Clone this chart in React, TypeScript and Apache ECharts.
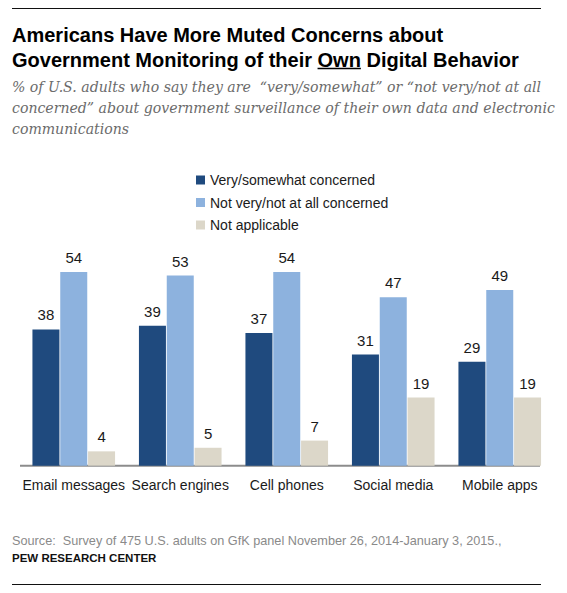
import React, { useEffect, useRef } from "react";
import * as echarts from "echarts";

const categories = ["Email messages", "Search engines", "Cell phones", "Social media", "Mobile apps"];
const seriesNames = ["Very/somewhat concerned", "Not very/not at all concerned", "Not applicable"];
const concerned = [38, 39, 37, 31, 29];
const notConcerned = [54, 53, 54, 47, 49];
const notApplicable = [4, 5, 7, 19, 19];
const seriesColors = ["#1f4a7e", "#8db2de", "#dcd7c9"];

const titleLine1 = "Americans Have More Muted Concerns about";
const titleLine2Pre = "Government Monitoring of their ";
const titleLine2Own = "Own";
const titleLine2Post = " Digital Behavior";
const subtitleLines = [
  "% of U.S. adults who say they are  \u201cvery/somewhat\u201d or \u201cnot very/not at all",
  "concerned\u201d about government surveillance of their own data and electronic",
  "communications",
];
const sourceText = "Source:  Survey of 475 U.S. adults on GfK panel November 26, 2014-January 3, 2015.,";
const brandText = "PEW RESEARCH CENTER";

const SANS = "'Liberation Sans', Arial, sans-serif";
const SERIF = "'DejaVu Serif', Georgia, serif";

function measure(text: string, font: string): number {
  const ctx = document.createElement("canvas").getContext("2d");
  if (!ctx) return text.length * 10;
  ctx.font = font;
  return ctx.measureText(text).width;
}

export default function App() {
  const ref = useRef<HTMLDivElement>(null);
  useEffect(() => {
    document.body.style.margin = "0";
    if (!ref.current) return;
    const chart = echarts.init(ref.current, null, { renderer: "svg" });

    const titleFont = `bold 20px ${SANS}`;
    const preW = measure(titleLine2Pre, titleFont);
    const ownW = measure(titleLine2Own, titleFont);
    const titleX = 12;

    const valueLabel = {
      show: true,
      position: "top" as const,
      distance: 7,
      fontSize: 15,
      color: "#1a1a1a",
      fontFamily: SANS,
    };

    const seriesData = [concerned, notConcerned, notApplicable];

    chart.setOption({
      animation: false,
      backgroundColor: "#ffffff",
      grid: { left: 20.5, width: 532.5, top: 250.5, bottom: 127.3, containLabel: false },
      legend: {
        orient: "vertical",
        left: 191,
        top: 167,
        icon: "rect",
        itemWidth: 9,
        itemHeight: 9,
        itemGap: 6.5,
        textStyle: { fontSize: 14, color: "#1a1a1a", fontFamily: SANS, lineHeight: 16 },
        data: seriesNames,
        selectedMode: false,
      },
      xAxis: {
        type: "category",
        data: categories,
        axisLine: { show: false },
        axisTick: { show: false },
        axisLabel: { fontSize: 14, color: "#1a1a1a", fontFamily: SANS, margin: 12, interval: 0 },
      },
      yAxis: {
        type: "value",
        min: 0,
        max: 60,
        show: false,
        splitLine: { show: false },
      },
      series: seriesNames.map((name, i) => ({
        name,
        type: "bar",
        data: seriesData[i],
        barWidth: 27,
        barGap: "3%",
        itemStyle: { color: seriesColors[i] },
        label: valueLabel,
      })),
      graphic: [
        { type: "line", shape: { x1: 12, y1: 8.5, x2: 541, y2: 8.5 }, style: { stroke: "#111", lineWidth: 1.2 } },
        {
          type: "text",
          x: titleX,
          y: 35,
          style: { text: titleLine1, font: titleFont, fill: "#000", verticalAlign: "middle" },
        },
        {
          type: "text",
          x: titleX,
          y: 59.5,
          style: {
            text: titleLine2Pre + titleLine2Own + titleLine2Post,
            font: titleFont,
            fill: "#000",
            verticalAlign: "middle",
          },
        },
        {
          type: "line",
          shape: { x1: titleX + preW, y1: 68.5, x2: titleX + preW + ownW, y2: 68.5 },
          style: { stroke: "#000", lineWidth: 1.5 },
        },
        ...subtitleLines.map((t, i) => ({
          type: "text",
          x: 12,
          y: 87 + i * 21,
          style: {
            text: t,
            fontSize: 14.1,
            fontStyle: "italic",
            fontFamily: SERIF,
            fill: "#6b6b6b",
            verticalAlign: "middle",
          },
        })),
        { type: "line", shape: { x1: 20, y1: 465.7, x2: 540, y2: 465.7 }, style: { stroke: "#8c8c8c", lineWidth: 2 } },
        {
          type: "text",
          x: 12,
          y: 541,
          style: { text: sourceText, fontSize: 12.7, fontFamily: SANS, fill: "#8a8a8a", verticalAlign: "middle" },
        },
        {
          type: "text",
          x: 12,
          y: 558,
          style: {
            text: brandText,
            fontSize: 11.5,
            fontWeight: "bold",
            fontFamily: SANS,
            fill: "#111",
            verticalAlign: "middle",
          },
        },
        { type: "line", shape: { x1: 12, y1: 584.5, x2: 541, y2: 584.5 }, style: { stroke: "#111", lineWidth: 1.2 } },
      ],
    });
    return () => chart.dispose();
  }, []);
  return <div ref={ref} style={{ width: 567, height: 593 }} />;
}
